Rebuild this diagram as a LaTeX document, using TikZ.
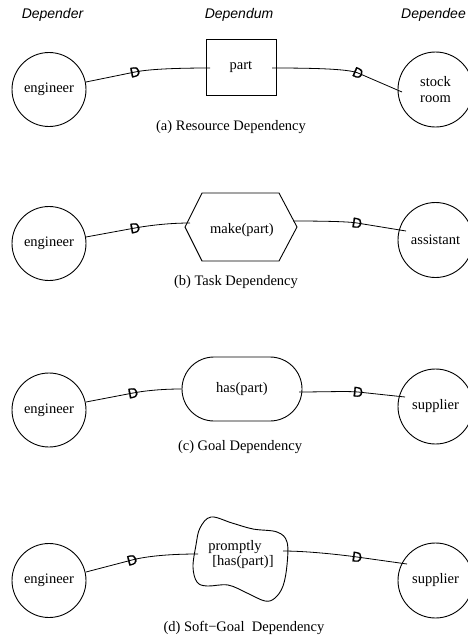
\documentclass[tikz,border=0pt]{standalone}
\usepackage{fontspec}
\setmainfont{Liberation Serif}
\setsansfont{Liberation Sans}
\newfontfamily\dmarkfont[FakeBold=1.2]{Liberation Sans}
\usetikzlibrary{shapes.misc}
\begin{document}
\begin{tikzpicture}[x=1pt,y=-1pt,
  every node/.style={font=\fontsize{14.5}{16}\selectfont},
  actor/.style={circle,draw,line width=0.9pt,minimum size=74pt,inner sep=0pt,align=center},
  link/.style={line width=0.8pt},
  dmark/.style={font=\dmarkfont\fontsize{14}{14}\selectfont,sloped,inner sep=0pt},
  hdr/.style={font=\sffamily\itshape\fontsize{14}{14}\selectfont},
  shapeline/.style={line width=0.9pt}]
\useasboundingbox (0,0) rectangle (468,643);

% headers
\node[hdr] (h1) at (52.5,15) {Depender};
\node[hdr] (h2) at (239,15) {Dependum};
\node[hdr] (h3) at (433.5,15) {Dependee};

% (a) resource
\node[actor] (L1) at (49,89.5) {engineer};
\node[draw,shapeline,minimum width=70pt,minimum height=56pt,inner sep=0pt] (B1) at (241,67) {part};
\node[actor,minimum size=75pt] (R1) at (435.5,89.5) {stock\\room};
\node (c1) at (231,127) {(a) Resource Dependency};
\draw[link] ([shift={(37,-7.5)}]L1.center) -- node[dmark,pos=1]{D} (135,72)
  .. controls (150,68.9) and (180,68) .. ([shift={(-31,1)}]B1.center);
\draw[link] ([shift={(31,1)}]B1.center) .. controls (310,68) and (348,68.7) .. (358,73)
  -- node[dmark,pos=0]{D} ([shift={(-33.5,2.5)}]R1.center);

% (b) task
\node[actor] (L2) at (49,243.5) {engineer};
\coordinate (H2) at (241,227);
\draw[shapeline] (185,227) -- (202,193) -- (279,193) -- (297,227) -- (279,261) -- (202,261) -- cycle;
\node (T2) at (242,230) {make(part)};
\node[actor,minimum size=75pt] (R2) at (435.5,240) {assistant};
\node (c2) at (236,282) {(b) Task Dependency};
\draw[link] ([shift={(37,-6.5)}]L2.center) -- node[dmark,pos=1]{D} (135,228)
  .. controls (150,225.3) and (170,223) .. ([shift={(-51,-4)}]H2);
\draw[link] ([shift={(52,-6)}]H2) .. controls (315,221) and (347,221.3) .. (357,223)
  -- node[dmark,pos=0]{D} ([shift={(-29.5,-9)}]R2.center);

% (c) goal
\node[actor] (L3) at (49,410) {engineer};
\node[draw,shapeline,rounded rectangle,minimum width=120pt,minimum height=64pt,inner sep=0pt] (G3) at (242,389) {has(part)};
\node[actor,minimum size=75pt] (R3) at (435.5,406.5) {supplier};
\node (c3) at (240,447) {(c) Goal Dependency};
\draw[link] ([shift={(37,-8)}]L3.center) -- node[dmark,pos=1]{D} (133,393)
  .. controls (148,390.2) and (165,389) .. (G3.west);
\draw[link] ([shift={(57,3)}]G3.center) .. controls (320,392) and (348,391) .. (358,392)
  -- node[dmark,pos=0]{D} ([shift={(-30.5,-9.5)}]R3.center);

% (d) soft-goal
\node[actor] (L4) at (49,580.5) {engineer};
\coordinate (S4) at (240,560);
\draw[shapeline] plot[smooth cycle, tension=0.6] coordinates {(211,517) (232,523) (253,529) (277,532) (287,542) (287,565) (283,586) (275,598) (265,601) (247,593) (228,585) (207,586) (197,582) (193,567) (196,545) (200,528)};
\node (T4a) at (235,547) {promptly};
\node (T4b) at (243,562) {[has(part)]};
\node[actor,minimum size=75pt] (R4) at (435.5,580.5) {supplier};
\node (c4) at (244,628) {(d) Soft−Goal~~Dependency};
\draw[link] ([shift={(37,-8.5)}]L4.center) -- node[dmark,pos=1]{D} (132,560)
  .. controls (147,556.1) and (170,554) .. ([shift={(-42,-6)}]S4);
\draw[link] ([shift={(43,-9)}]S4) .. controls (310,551) and (347,555.6) .. (357,557)
  -- node[dmark,pos=0]{D} ([shift={(-28.5,-16.5)}]R4.center);
\end{tikzpicture}
\end{document}
